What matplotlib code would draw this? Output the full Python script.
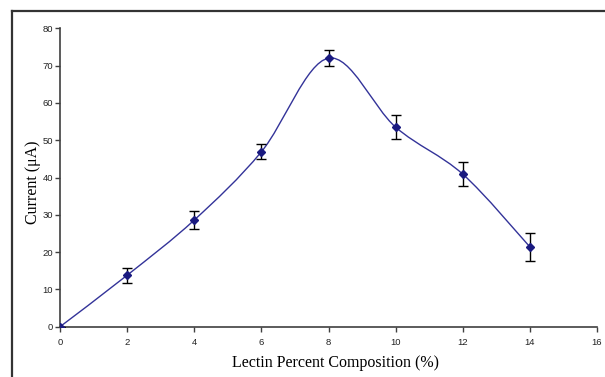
import numpy as np
import matplotlib.pyplot as plt
from matplotlib.path import Path
from matplotlib.patches import PathPatch
from matplotlib.lines import Line2D

# data
lectin_pct = [0, 2, 4, 6, 8, 10, 12, 14]
current_ua = [0, 13.8, 28.6, 46.9, 72.0, 53.5, 40.9, 21.4]
current_err = [0, 2.0, 2.4, 2.0, 2.1, 3.3, 3.3, 3.7]
x_ticks = [0, 2, 4, 6, 8, 10, 12, 14, 16]
y_ticks = [0, 10, 20, 30, 40, 50, 60, 70, 80]

line_col = '#333399'
mark_col = '#1a1a80'

fig = plt.figure(figsize=(6.05, 3.77), dpi=100)
ax = fig.add_axes([0.0992, 0.1334, 0.8876, 0.7915])

# Excel-style smoothed line: bezier segments through the points
pts = np.column_stack([lectin_pct, current_ua])
verts = [tuple(pts[0])]
codes = [Path.MOVETO]
n = len(pts)
for i in range(n - 1):
    p0 = pts[max(i - 1, 0)]
    p1 = pts[i]
    p2 = pts[i + 1]
    p3 = pts[min(i + 2, n - 1)]
    c1 = p1 + (p2 - p0) / 6.0
    c2 = p2 - (p3 - p1) / 6.0
    verts += [tuple(c1), tuple(c2), tuple(p2)]
    codes += [Path.CURVE4] * 3
ax.add_patch(PathPatch(Path(verts, codes), fill=False, edgecolor=line_col, lw=1.0))

ax.errorbar(lectin_pct, current_ua, yerr=current_err, fmt='D', ms=4,
            color=mark_col, ecolor='black', elinewidth=1.0, capsize=3.5,
            capthick=1.0, zorder=3)

ax.set_xlim(0, 16)
ax.set_ylim(0, 80)
ax.set_xticks(x_ticks)
ax.set_yticks(y_ticks)
for s in ['top', 'right']:
    ax.spines[s].set_visible(False)
for s in ['left', 'bottom']:
    ax.spines[s].set_color('#404040')
    ax.spines[s].set_linewidth(1.2)
ax.tick_params(direction='out', length=3.5, width=1, color='#404040',
               labelsize=6.8)
ax.tick_params(axis='x', pad=4.5)
ax.tick_params(axis='y', pad=1.5)
for lab in ax.get_xticklabels() + ax.get_yticklabels():
    lab.set_fontfamily('Liberation Sans')
    lab.set_color('#222222')
ax.patch.set_alpha(0)

fig.text(335 / 605, 1 - 363 / 377, 'Lectin Percent Composition (%)',
         ha='center', va='center', fontsize=11.5, family='Liberation Serif')
fig.text(33 / 605, 1 - 182 / 377, 'Current (\u03bcA)', rotation=90,
         ha='center', va='center', fontsize=11.5, family='Liberation Serif')

# outer chart frame (top and left edges visible)
fig.add_artist(Line2D([12 / 605, 1.0], [1 - 11 / 377] * 2,
                      transform=fig.transFigure, color='#333333', lw=1.6))
fig.add_artist(Line2D([12 / 605] * 2, [0, 1 - 11 / 377],
                      transform=fig.transFigure, color='#333333', lw=1.6))

fig.savefig('out.png', dpi=100)
